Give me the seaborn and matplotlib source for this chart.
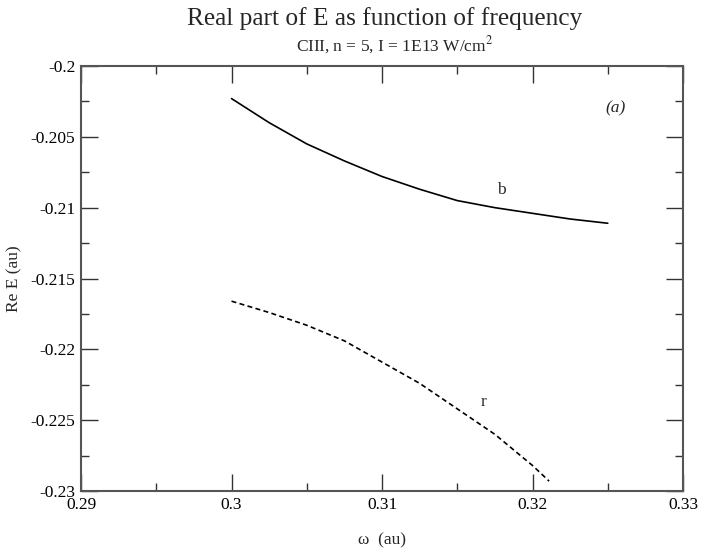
import numpy as np
import pandas as pd
import seaborn as sns
import matplotlib.pyplot as plt
from matplotlib.ticker import MultipleLocator

# curve b (solid)
omega_b = [0.300, 0.3025, 0.305, 0.3075, 0.310, 0.3125, 0.315, 0.3175, 0.320, 0.3225, 0.325]
re_b = [-0.2023, -0.2040, -0.2055, -0.2067, -0.2078, -0.2087, -0.2095, -0.2100, -0.2104, -0.2108, -0.2111]

# curve r (dashed)
omega_r = [0.300, 0.3025, 0.305, 0.3075, 0.310, 0.3125, 0.315, 0.3175, 0.320, 0.3211]
re_r = [-0.2166, -0.2174, -0.2183, -0.2194, -0.2209, -0.2224, -0.2242, -0.2260, -0.2282, -0.2293]

df_b = pd.DataFrame({'omega': omega_b, 'ReE': re_b})
df_r = pd.DataFrame({'omega': omega_r, 'ReE': re_r})

sns.set_style("ticks")
plt.rcParams['font.family'] = ['Liberation Serif', 'DejaVu Serif']
plt.rcParams['mathtext.fontset'] = 'stix'

fig = plt.figure(figsize=(7.04, 5.49), dpi=100)
ax = fig.add_axes([0.1151, 0.1056, 0.8551, 0.7742])

sns.lineplot(data=df_b, x='omega', y='ReE', color='black', lw=1.2, ax=ax)
sns.lineplot(data=df_r, x='omega', y='ReE', color='black', lw=1.2, ax=ax, linestyle=(0, (3, 2)))

ax.set_xlim(0.29, 0.33)
ax.set_ylim(-0.23, -0.2)
ax.xaxis.set_minor_locator(MultipleLocator(0.005))
ax.yaxis.set_minor_locator(MultipleLocator(0.0025))
ax.set_xticks([0.29, 0.3, 0.31, 0.32, 0.33])
ax.set_xticklabels(['0.29', '0.3', '0.31', '0.32', '0.33'])
ax.set_yticks([-0.23, -0.225, -0.22, -0.215, -0.21, -0.205, -0.2])
ax.set_yticklabels(['-0.23', '-0.225', '-0.22', '-0.215', '-0.21', '-0.205', '-0.2'])
ax.tick_params(which='both', direction='in', top=True, right=True, labelsize=12.5, colors='#333333', labelcolor='black')
ax.tick_params(which='major', length=12, width=1)
ax.tick_params(which='minor', length=6, width=1)
ax.tick_params(axis='x', pad=4)
ax.tick_params(axis='y', pad=4)
for sp in ax.spines.values():
    sp.set_color('#555555')
    sp.set_linewidth(1.5)

ax.set_xlabel('ω  (au)', fontsize=12.5, labelpad=14)
ax.set_ylabel('Re E (au)', fontsize=12.5, labelpad=6)

ax.text(0.31795, -0.2093, 'b', fontsize=12.5, ha='center', va='bottom')
ax.text(0.31673, -0.2243, 'r', fontsize=12.5, ha='center', va='bottom')
ax.text(0.32553, -0.2030, '(a)', fontsize=12.5, ha='center', va='center', style='italic')

fig.text(0.546, 0.967, 'Real part of E as function of frequency', fontsize=18.3, ha='center', va='center')
fig.text(0.56, 0.918, 'CIII, n = 5, I = 1E13 W/cm$^2$', fontsize=12.5, ha='center', va='center')

fig.savefig('out.png', dpi=100)
